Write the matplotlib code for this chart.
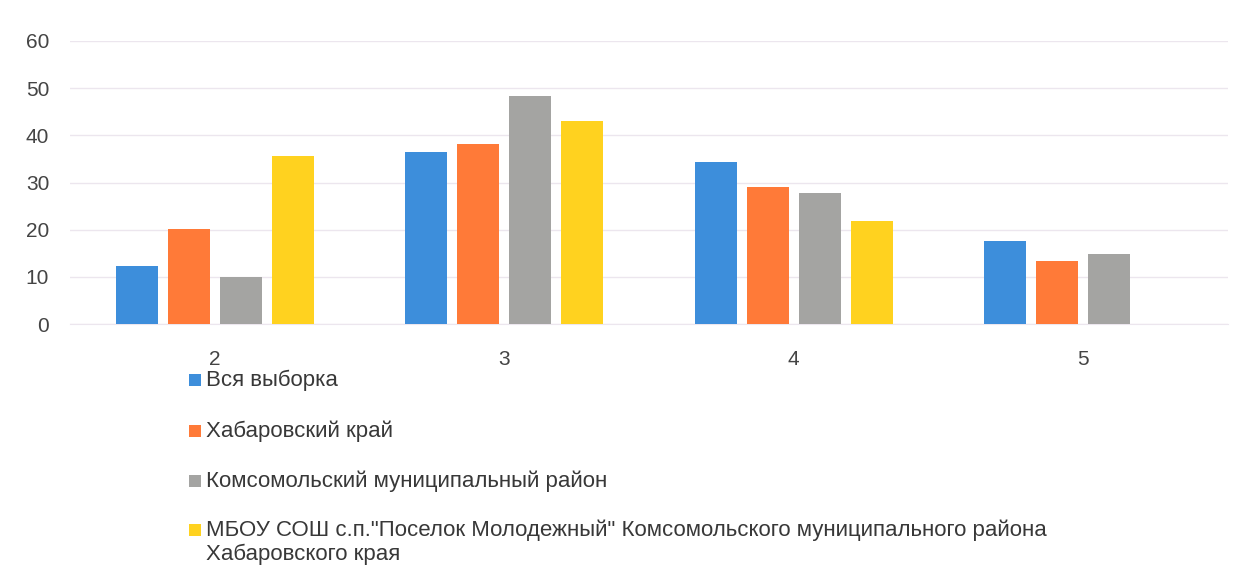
import matplotlib
matplotlib.use("Agg")
import matplotlib.pyplot as plt
import numpy as np
from matplotlib.patches import Rectangle

categories = ["2", "3", "4", "5"]
series_names = [
    "Вся выборка",
    "Хабаровский край",
    "Комсомольский муниципальный район",
    "МБОУ СОШ с.п.\"Поселок Молодежный\" Комсомольского муниципального района",
]
last_name_line2 = "Хабаровского края"
vsya = [12.3, 36.5, 34.3, 17.5]
khab = [20.2, 38.1, 29.1, 13.3]
koms = [10.0, 48.3, 27.8, 14.8]
mbou = [35.6, 43.0, 21.8, 0.0]
colors = ["#3D8EDB", "#FF7A38", "#A4A4A2", "#FFD21F"]
yticks = [0, 10, 20, 30, 40, 50, 60]

plt.rcParams['font.family'] = ['Liberation Sans', 'DejaVu Sans']

W, H = 1244, 571
fig = plt.figure(figsize=(W / 100, H / 100), dpi=100)
ax = fig.add_axes([70 / W, 247 / H, 1158 / W, 283 / H])

x = np.arange(len(categories))
w = 0.145
pitch = 0.18
all_series = [vsya, khab, koms, mbou]
for i, (vals, c) in enumerate(zip(all_series, colors)):
    ax.bar(x + (i - 1.5) * pitch, vals, width=w, color=c, zorder=3)

ax.set_xlim(-0.5, 3.5)
ax.set_ylim(0, 60)
ax.set_yticks(yticks)
ax.set_xticks(x)
ax.set_xticklabels(categories)
ax.grid(axis='y', color='#ECE6EE', linewidth=1, zorder=0)
for s in ['top', 'right', 'left']:
    ax.spines[s].set_visible(False)
ax.spines['bottom'].set_color('#ECE6EE')
ax.tick_params(axis='both', length=0, labelsize=15, colors='#444444')
ax.tick_params(axis='x', pad=19)
ax.tick_params(axis='y', pad=15)

# legend drawn manually (vertical list under the plot)
row_y = [380, 431, 481, 530]
text_color = '#383838'
fs = 16
for name, c, yp in zip(series_names, colors, row_y):
    fig.patches.append(Rectangle((189 / W, 1 - (yp + 6) / H), 12 / W, 12 / H,
                                 transform=fig.transFigure, facecolor=c,
                                 edgecolor='none'))
    fig.text(206 / W, 1 - yp / H, name, ha='left', va='center',
             fontsize=fs, color=text_color)
fig.text(206 / W, 1 - 554 / H, last_name_line2, ha='left', va='center',
         fontsize=fs, color=text_color)

fig.savefig("out.png", dpi=100, facecolor='white')
